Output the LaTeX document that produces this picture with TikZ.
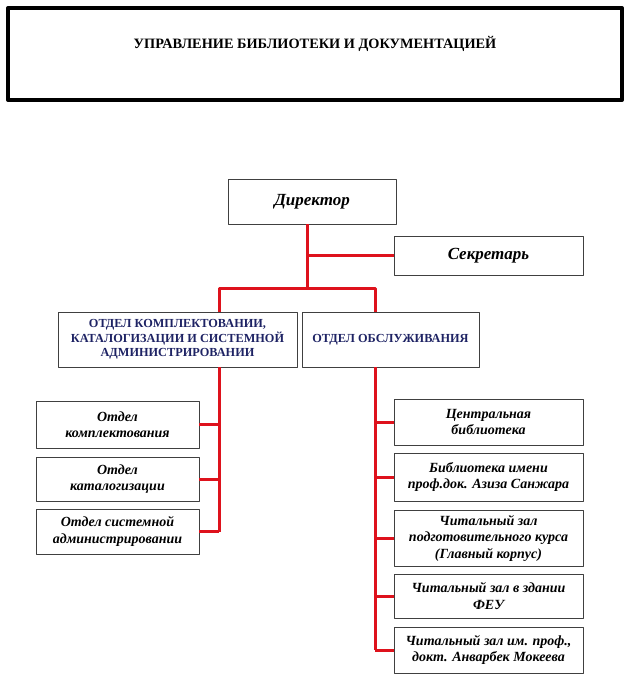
\documentclass[tikz,border=0pt]{standalone}
\usepackage{fontspec}
\setmainfont{Liberation Serif}
\begin{document}
\begin{tikzpicture}[x=1pt,y=-1pt,line join=round]
                \tikzset{box/.style={draw=black!75,line width=0.8pt,align=center,inner sep=2pt,font=\fontsize{14}{16.5}\selectfont\bfseries\itshape},
                    dept/.style={box,text=navy,font=\fontsize{12.3}{14.5}\selectfont\bfseries},
                    head/.style={box,font=\fontsize{17}{19}\selectfont\bfseries\itshape},
                    redline/.style={draw=linered,line width=3pt}}
                \definecolor{navy}{RGB}{30,35,100}
                \definecolor{linered}{RGB}{222,18,28}
                \def \lcol{219}
                \def \rcol{375}
                \useasboundingbox (0,0) rectangle (630,695);
                % header
                \node[draw,line width=4pt,minimum width=614pt,minimum height=92pt] (frame) at (315,54) {};
                \node[font=\fontsize{14.3}{16}\selectfont\bfseries] (title) at (315,44) {УПРАВЛЕНИЕ БИБЛИОТЕКИ И ДОКУМЕНТАЦИЕЙ};
                % top
                \node[head,minimum width=168pt,minimum height=45pt] (dir) at (312,201.5) {Директор};
                \node[head,minimum width=189pt,minimum height=39pt] (sec) at (488.5,255.5) {Секретарь};
                \node[dept,minimum width=239pt,minimum height=55pt] (d1) at (177.5,339.5) {ОТДЕЛ КОМПЛЕКТОВАНИИ,\\КАТАЛОГИЗАЦИИ И СИСТЕМНОЙ\\АДМИНИСТРИРОВАНИИ};
                \node[dept,minimum width=177pt,minimum height=55pt] (d2) at (390.5,339.5) {ОТДЕЛ ОБСЛУЖИВАНИЯ};
                % left column
                \node[box,minimum width=163pt,minimum height=47pt] (l1) at (117.5,424.5) {Отдел\\комплектования};
                \node[box,minimum width=163pt,minimum height=44pt] (l2) at (117.5,479) {Отдел\\каталогизации};
                \node[box,minimum width=163pt,minimum height=45pt] (l3) at (117.5,531.5) {Отдел системной\\администрировании};
                % right column
                \node[box,minimum width=189pt,minimum height=46pt] (r1) at (488.5,422) {Центральная\\библиотека};
                \node[box,minimum width=189pt,minimum height=48pt] (r2) at (488.5,477) {Библиотека имени\\проф.док. Азиза Санжара};
                \node[box,minimum width=189pt,minimum height=56pt] (r3) at (488.5,538) {Читальный зал\\подготовительного курса\\(Главный корпус)};
                \node[box,minimum width=189pt,minimum height=44pt] (r4) at (488.5,596) {Читальный зал в здании\\ФЕУ};
                \node[box,minimum width=189pt,minimum height=46pt] (r5) at (488.5,650) {Читальный зал им. проф.,\\докт. Анварбек Мокеева};
                % connectors
                \coordinate (top) at (307,288);
                \coordinate (lc) at (\lcol,288);
                \coordinate (rc) at (\rcol,288);
                \draw[redline] (top |- dir.south)--(top);
                \draw[redline] (top |- sec.west)--(sec.west);
                \draw[redline] (lc |- d1.north)--(lc)--(rc)--(rc |- d2.north);
                \draw[redline] (lc |- d1.south)--(lc |- l3.east);
                \draw[redline] (rc |- d2.south)--(rc |- r5.west);
                \foreach \c in {l1,l2,l3}
                    \draw[redline] (lc |- \c.east)--(\c.east);
                \foreach \c in {r1,r2,r3,r4,r5}
                    \draw[redline] (rc |- \c.west)--(\c.west);
        \end{tikzpicture}
\end{document}
